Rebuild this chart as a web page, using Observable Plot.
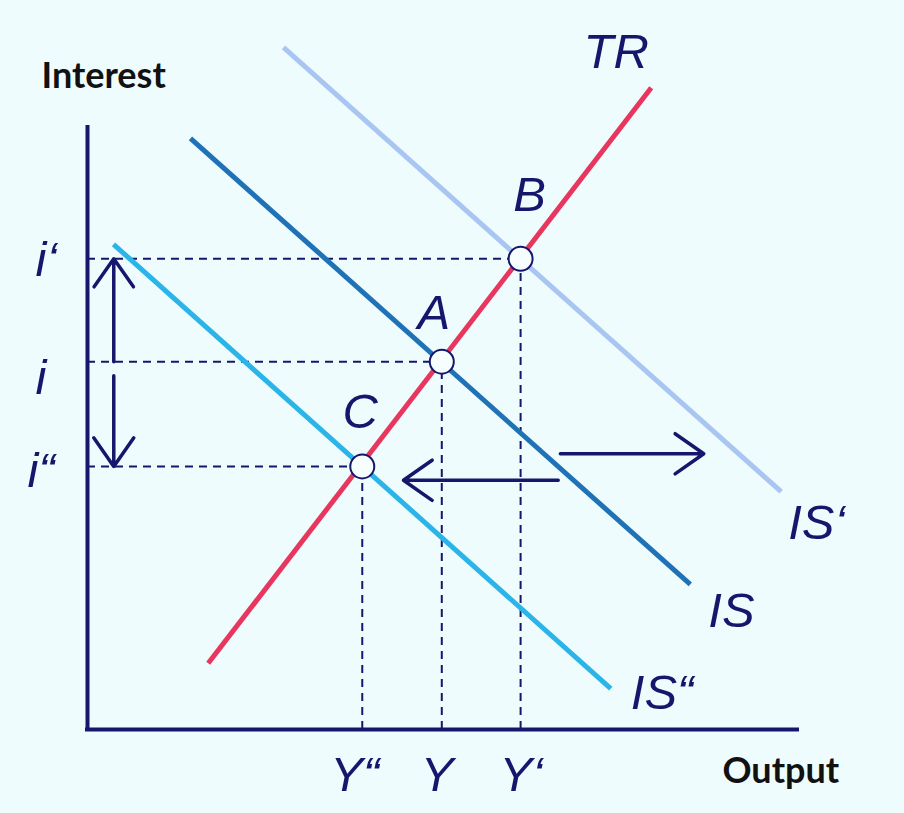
<!DOCTYPE html>
<html><head><meta charset="utf-8">
<script src="https://cdn.jsdelivr.net/npm/d3@7"></script>
<script src="https://cdn.jsdelivr.net/npm/@observablehq/plot@0.6"></script>
<style>
html,body{margin:0;padding:0;background:#effcfd;}
#chart{width:904px;height:813px;overflow:hidden;}
</style>
</head><body><div id="chart"></div>
<script>
// Equilibrium points (output, interest)
const pointNames = ["B", "A", "C"];
const pointX = [61.0, 49.9, 38.7];
const pointY = [78.2, 61.1, 43.7];
const rateLabels = ["i‘", "i", "i“"];
const outputLabels = ["Y‘", "Y", "Y“"];

// Curves: start and end points
const curveNames = ["TR", "IS‘", "IS", "IS“"];
const curveX1 = [17.0, 27.6, 14.5, 3.66];
const curveY1 = [11.0, 113.3, 98.2, 80.6];
const curveX2 = [79.4, 97.7, 84.9, 73.7];
const curveY2 = [106.6, 39.5, 24.1, 6.8];

// Shift arrows of the IS curve
const shiftY = [45.8, 41.4];
const shiftX1 = [66.6, 66.3];
const shiftX2 = [86.8, 44.5];
// Interest-rate arrow position on the output axis
const rateArrowX = 3.7;

const points = pointNames.map((n, i) => ({name: n, x: pointX[i], y: pointY[i], rate: rateLabels[i], out: outputLabels[i]}));
const curves = curveNames.map((n, i) => ({name: n, x1: curveX1[i], y1: curveY1[i], x2: curveX2[i], y2: curveY2[i]}));
const shifts = shiftY.map((y, i) => ({y, x1: shiftX1[i], x2: shiftX2[i]}));
const byName = Object.fromEntries(points.map(p => [p.name, p]));
const curveByName = Object.fromEntries(curves.map(c => [c.name, c]));

const navy = "#16166c";
const colors = {"TR": "#e8365e", "IS‘": "#a9c5f1", "IS": "#1f72b6", "IS“": "#2ab4e7"};
const italic = {fontFamily: "Liberation Sans, Arial, sans-serif", fontStyle: "italic", fontSize: 49, fill: navy, lineAnchor: "bottom"};
const bold = {fontFamily: "Lato, Open Sans, sans-serif", fontWeight: "bold", fontSize: 36, fill: "#111", lineAnchor: "bottom", textAnchor: "start"};

function label(text, x, y, dx, dy, anchor = "middle") {
  return Plot.text([{x, y, text}], {x: "x", y: "y", text: "text", dx, dy, textAnchor: anchor, ...italic});
}

const A = byName.A, B = byName.B, C = byName.C;
const arrowStyle = {stroke: navy, strokeWidth: 3.5, headLength: 15, headAngle: 70};

const marks = [
  // dashed guides
  Plot.ruleY(points, {y: "y", x1: 0, x2: "x", stroke: navy, strokeWidth: 2, strokeDasharray: "8,6"}),
  Plot.ruleX(points, {x: "x", y1: 0, y2: "y", stroke: navy, strokeWidth: 2, strokeDasharray: "8,6"}),
  // axes
  Plot.ruleX([0], {y1: 0, y2: 100, stroke: navy, strokeWidth: 4, strokeLinecap: "square"}),
  Plot.ruleY([0], {x1: 0, x2: 100, stroke: navy, strokeWidth: 4, strokeLinecap: "square"}),
  // curves
  Plot.link(curves, {x1: "x1", y1: "y1", x2: "x2", y2: "y2", stroke: d => colors[d.name], strokeWidth: 5, strokeLinecap: "butt"}),
  // interest arrows
  Plot.arrow([{x: rateArrowX, y1: A.y, y2: B.y}], {x1: "x", x2: "x", y1: "y1", y2: "y2", ...arrowStyle}),
  Plot.arrow([{x: rateArrowX, y1: A.y, y2: C.y}], {x1: "x", x2: "x", y1: "y1", y2: "y2", insetStart: 14, ...arrowStyle}),
  // shift arrows
  Plot.arrow(shifts, {x1: "x1", x2: "x2", y1: "y", y2: "y", ...arrowStyle}),
  // equilibrium points
  Plot.dot(points, {x: "x", y: "y", r: 12, fill: "#f7fefe", stroke: navy, strokeWidth: 2}),
  // point labels
  label("B", B.x, B.y, 9, -48),
  label("A", A.x, A.y, -8, -33),
  label("C", C.x, C.y, -2, -38),
  // curve labels
  label("TR", curveByName["TR"].x2, curveByName["TR"].y2, -35, -20),
  label("IS‘", curveByName["IS‘"].x2, curveByName["IS‘"].y2, 7, 47, "start"),
  label("IS", curveByName["IS"].x2, curveByName["IS"].y2, 18, 43, "start"),
  label("IS“", curveByName["IS“"].x2, curveByName["IS“"].y2, 20, 20, "start"),
  // interest level labels
  label(B.rate, 0, B.y, -52, 17, "start"),
  label(A.rate, 0, A.y, -52, 32, "start"),
  label(C.rate, 0, C.y, -60, 21, "start"),
  // output level labels
  label(B.out, B.x, 0, -21, 61, "start"),
  label(A.out, A.x, 0, -21, 61, "start"),
  label(C.out, C.x, 0, -32, 61, "start"),
  // axis titles
  Plot.text(["Interest"], {x: 0, y: 100, text: d => d, dx: -46, dy: -40, ...bold}),
  Plot.text(["Output"], {x: 100, y: 0, text: d => d, dx: -75, dy: 53, ...bold})
];

const chart = Plot.plot({
  width: 904,
  height: 813,
  marginLeft: 87,
  marginRight: 107,
  marginTop: 127,
  marginBottom: 84,
  x: {domain: [0, 100], axis: null},
  y: {domain: [0, 100], axis: null},
  style: {background: "#effcfd", overflow: "visible"},
  marks
});
document.getElementById("chart").appendChild(chart);
</script>
</body></html>
